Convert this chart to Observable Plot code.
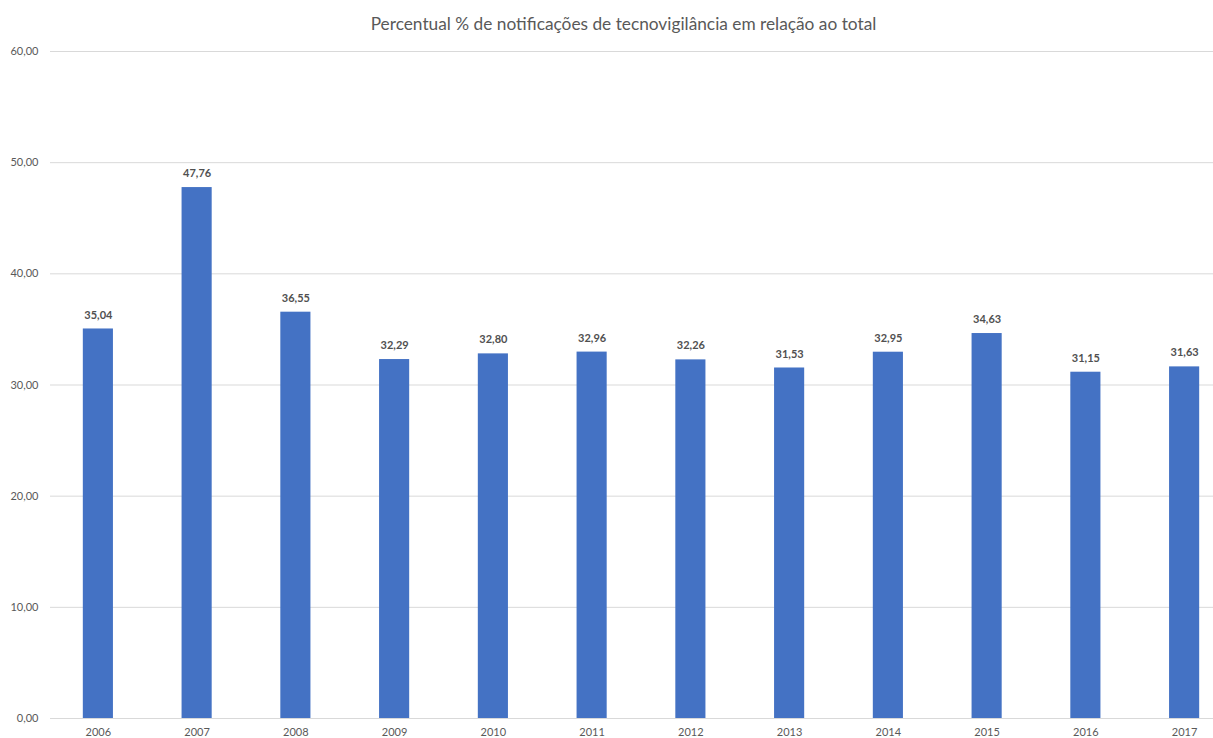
<!DOCTYPE html>
<html>
<head>
<meta charset="utf-8">
<script src="https://cdn.jsdelivr.net/npm/d3@7"></script>
<script src="https://cdn.jsdelivr.net/npm/@observablehq/plot@0.6"></script>
<style>
  html, body { margin: 0; padding: 0; background: #fff; }
  #title { height: 40px; line-height: 48px; text-align: center; padding-left: 34px; font-family: Lato, "Open Sans", sans-serif; font-size: 17.3px; color: #595959; }
  #chart svg { display: block; }
</style>
</head>
<body>
<div id="title">Percentual % de notificações de tecnovigilância em relação ao total</div>
<div id="chart"></div>
<script>
const years = ["2006","2007","2008","2009","2010","2011","2012","2013","2014","2015","2016","2017"];
const values = [35.04, 47.76, 36.55, 32.29, 32.80, 32.96, 32.26, 31.53, 32.95, 34.63, 31.15, 31.63];
const yTicks = [0, 10, 20, 30, 40, 50, 60];

const data = years.map((y, i) => ({year: y, value: values[i]}));
const fmt = d => d.toFixed(2).replace(".", ",");

const chart = Plot.plot({
  width: 1213,
  height: 698,
  marginTop: 11,
  marginBottom: 20,
  marginLeft: 50,
  marginRight: 0,
  style: {fontFamily: "Lato, 'Open Sans', sans-serif", fontSize: "11px", color: "#595959", background: "#fff"},
  x: {domain: years, range: [48.5, 1233.5], paddingInner: 0.695, paddingOuter: 0.3475, round: false, label: null},
  y: {domain: [0, 60], ticks: yTicks, label: null},
  marks: [
    Plot.gridY(yTicks, {stroke: "#d9d9d9", strokeOpacity: 1}),
    Plot.axisY(yTicks, {tickSize: 0, tickPadding: 12, tickFormat: fmt, fill: "#595959", label: null}),
    Plot.axisX({tickSize: 0, tickPadding: 10, fill: "#595959", label: null}),
    Plot.barY(data, {x: "year", y: "value", fill: "#4472C4"}),
    Plot.text(data, {x: "year", y: "value", text: d => fmt(d.value), dy: -14, fill: "#505050", fontWeight: "bold", fontSize: 11})
  ]
});
document.getElementById("chart").appendChild(chart);
</script>
</body>
</html>
